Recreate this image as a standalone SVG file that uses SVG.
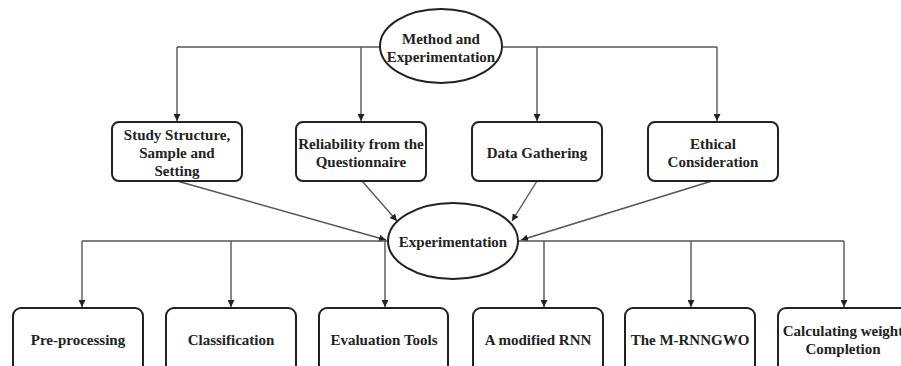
<svg xmlns="http://www.w3.org/2000/svg" width="901" height="366" viewBox="0 0 901 366">
<defs>
<marker id="ah" viewBox="0 0 10 10" refX="10" refY="5" markerWidth="7" markerHeight="7" markerUnits="userSpaceOnUse" orient="auto">
<path d="M0,0 L10,5 L0,10 z" fill="#222"/>
</marker>
<style>
.box{fill:#fff;stroke:#222;stroke-width:2}
.ell{fill:#fff;stroke:#222;stroke-width:2}
.ln{fill:none;stroke:#555;stroke-width:1.4}
.ar{fill:none;stroke:#555;stroke-width:1.4;marker-end:url(#ah)}
text{font-family:"Liberation Serif","Times New Roman",serif;font-weight:bold;font-size:15px;fill:#222;text-anchor:middle}
</style>
</defs>
<rect width="901" height="366" fill="#fff"/>
<g id="connectors">
<path class="ln" d="M177,47 H717"/>
<path class="ar" d="M177,47 V121"/>
<path class="ar" d="M361,47 V121"/>
<path class="ar" d="M537,47 V121"/>
<path class="ar" d="M717,47 V121"/>
<path class="ar" d="M177,181 L386,240"/>
<path class="ar" d="M362,181 L397,221"/>
<path class="ar" d="M537,181 L512,221"/>
<path class="ar" d="M712,181 L521,240"/>
<path class="ln" d="M82,241 H844"/>
<path class="ar" d="M82,241 V307"/>
<path class="ar" d="M231,241 V307"/>
<path class="ar" d="M385,241 V307"/>
<path class="ar" d="M544,241 V307"/>
<path class="ar" d="M691,241 V307"/>
<path class="ar" d="M844,241 V307"/>
</g>
<g id="method">
<ellipse class="ell" cx="441" cy="46" rx="61" ry="37"/>
<text x="441" y="44">Method and</text>
<text x="441" y="62">Experimentation</text>
</g>
<g id="study">
<rect class="box" x="112" y="122" width="130" height="59" rx="7"/>
<text x="177" y="140">Study Structure,</text>
<text x="177" y="158">Sample and</text>
<text x="177" y="176">Setting</text>
</g>
<g id="reliability">
<rect class="box" x="296" y="122" width="130" height="59" rx="7"/>
<text x="361" y="149">Reliability from the</text>
<text x="361" y="167">Questionnaire</text>
</g>
<g id="data">
<rect class="box" x="472" y="122" width="130" height="59" rx="7"/>
<text x="537" y="158">Data Gathering</text>
</g>
<g id="ethical">
<rect class="box" x="648" y="122" width="130" height="59" rx="7"/>
<text x="713" y="149">Ethical</text>
<text x="713" y="167">Consideration</text>
</g>
<g id="experimentation">
<ellipse class="ell" cx="453" cy="241" rx="65" ry="38"/>
<text x="453" y="247">Experimentation</text>
</g>
<g id="preprocessing">
<rect class="box" x="13" y="308" width="130" height="70" rx="8"/>
<text x="78" y="345">Pre-processing</text>
</g>
<g id="classification">
<rect class="box" x="166" y="308" width="130" height="70" rx="8"/>
<text x="231" y="345">Classification</text>
</g>
<g id="evaluation">
<rect class="box" x="319" y="308" width="129" height="70" rx="8"/>
<text x="384" y="345">Evaluation Tools</text>
</g>
<g id="rnn">
<rect class="box" x="473" y="308" width="130" height="70" rx="8"/>
<text x="538" y="345">A modified RNN</text>
</g>
<g id="mrnngwo">
<rect class="box" x="625" y="308" width="130" height="70" rx="8"/>
<text x="690" y="345">The M-RNNGWO</text>
</g>
<g id="calculating">
<rect class="box" x="778" y="308" width="132" height="70" rx="8"/>
<text x="843" y="336">Calculating weight</text>
<text x="843" y="354">Completion</text>
</g>
</svg>
